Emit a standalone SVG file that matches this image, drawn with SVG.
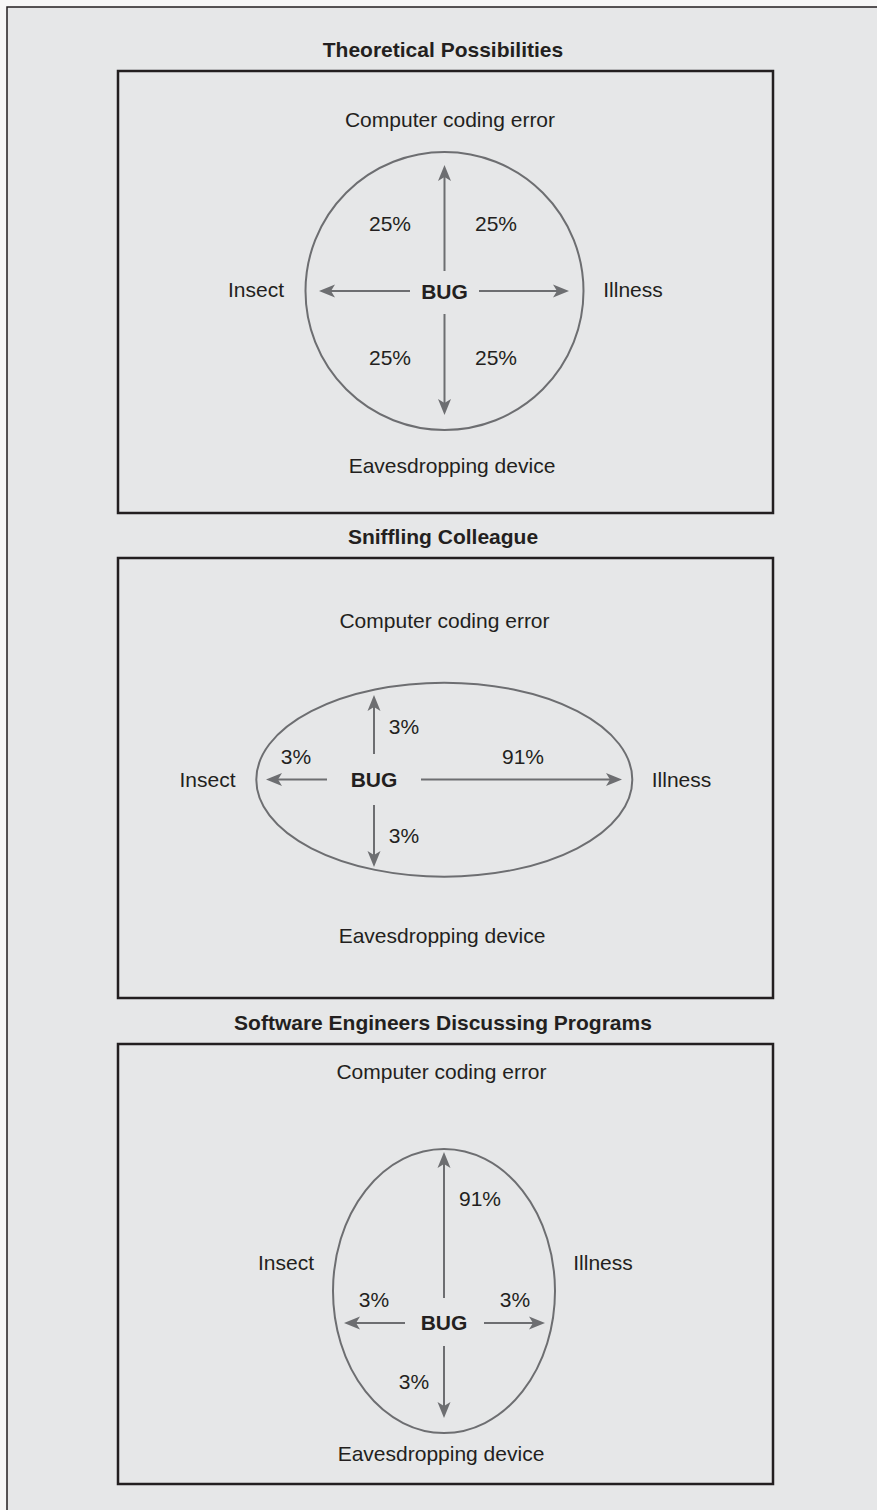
<svg xmlns="http://www.w3.org/2000/svg" width="877" height="1510" viewBox="0 0 877 1510">
<defs>
<style>
.t{font-family:"Liberation Sans",Arial,sans-serif;font-size:21px;fill:#231f20;text-anchor:middle}
.b{font-weight:bold}
.box{fill:none;stroke:#231f20;stroke-width:2.5}
.shape{fill:none;stroke:#6d6e71;stroke-width:2}
.arr{fill:none;stroke:#6d6e71;stroke-width:2;marker-end:url(#ah)}
</style>
<marker id="ah" markerWidth="17" markerHeight="14" refX="4" refY="7" orient="auto" markerUnits="userSpaceOnUse" viewBox="0 0 17 14">
<path d="M0,0.5 L16,7 L0,13.5 L4,7 Z" fill="#6d6e71"/>
</marker>
</defs>
<rect x="0" y="0" width="877" height="1510" fill="#f7f7f7"/>
<rect x="7" y="7" width="880" height="1520" fill="#e6e7e8" stroke="#231f20" stroke-width="1.5"/>

<g id="panel1">
<text class="t b" x="443" y="57">Theoretical Possibilities</text>
<rect class="box" x="118" y="71" width="655" height="442"/>
<g id="p1-bug"><circle class="shape" cx="444.5" cy="291" r="139"/><text class="t b" x="444.5" y="299">BUG</text></g>
<g id="p1-coding"><text class="t" x="450" y="127">Computer coding error</text></g>
<g id="p1-insect"><text class="t" x="256" y="297">Insect</text></g>
<g id="p1-illness"><text class="t" x="633" y="297">Illness</text></g>
<g id="p1-eaves"><text class="t" x="452" y="473">Eavesdropping device</text></g>
<text class="t" x="390" y="231">25%</text>
<text class="t" x="496" y="231">25%</text>
<text class="t" x="390" y="365">25%</text>
<text class="t" x="496" y="365">25%</text>
</g>

<g id="panel2">
<text class="t b" x="443" y="544">Sniffling Colleague</text>
<rect class="box" x="118" y="558" width="655" height="440"/>
<g id="p2-bug"><ellipse class="shape" cx="444.3" cy="779.7" rx="188" ry="97"/><text class="t b" x="374" y="786.5">BUG</text></g>
<g id="p2-coding"><text class="t" x="444.5" y="628">Computer coding error</text></g>
<g id="p2-insect"><text class="t" x="207.5" y="787">Insect</text></g>
<g id="p2-illness"><text class="t" x="681.5" y="787">Illness</text></g>
<g id="p2-eaves"><text class="t" x="442" y="943">Eavesdropping device</text></g>
<text class="t" x="404" y="733.5">3%</text>
<text class="t" x="296" y="763.5">3%</text>
<text class="t" x="523" y="763.5">91%</text>
<text class="t" x="404" y="843">3%</text>
</g>

<g id="panel3">
<text class="t b" x="443" y="1030">Software Engineers Discussing Programs</text>
<rect class="box" x="118" y="1044" width="655" height="440"/>
<g id="p3-bug"><ellipse class="shape" cx="444" cy="1291" rx="111" ry="142"/><text class="t b" x="444" y="1330">BUG</text></g>
<g id="p3-coding"><text class="t" x="441.5" y="1079">Computer coding error</text></g>
<g id="p3-insect"><text class="t" x="286" y="1270">Insect</text></g>
<g id="p3-illness"><text class="t" x="603" y="1270">Illness</text></g>
<g id="p3-eaves"><text class="t" x="441" y="1461">Eavesdropping device</text></g>
<text class="t" x="480" y="1205.5">91%</text>
<text class="t" x="374" y="1307">3%</text>
<text class="t" x="515" y="1307">3%</text>
<text class="t" x="414" y="1389">3%</text>
</g>

<g id="connectors">
<line class="arr" x1="444.5" y1="271" x2="444.5" y2="177"/>
<line class="arr" x1="444.5" y1="314" x2="444.5" y2="403"/>
<line class="arr" x1="410" y1="291" x2="331" y2="291"/>
<line class="arr" x1="479" y1="291" x2="557" y2="291"/>

<line class="arr" x1="374" y1="754" x2="374" y2="707"/>
<line class="arr" x1="374" y1="805" x2="374" y2="855"/>
<line class="arr" x1="327" y1="779.5" x2="278" y2="779.5"/>
<line class="arr" x1="421" y1="779.5" x2="610" y2="779.5"/>

<line class="arr" x1="444" y1="1298" x2="444" y2="1164"/>
<line class="arr" x1="444" y1="1346" x2="444" y2="1406"/>
<line class="arr" x1="405" y1="1323" x2="356" y2="1323"/>
<line class="arr" x1="484" y1="1323" x2="533" y2="1323"/>
</g>
</svg>
